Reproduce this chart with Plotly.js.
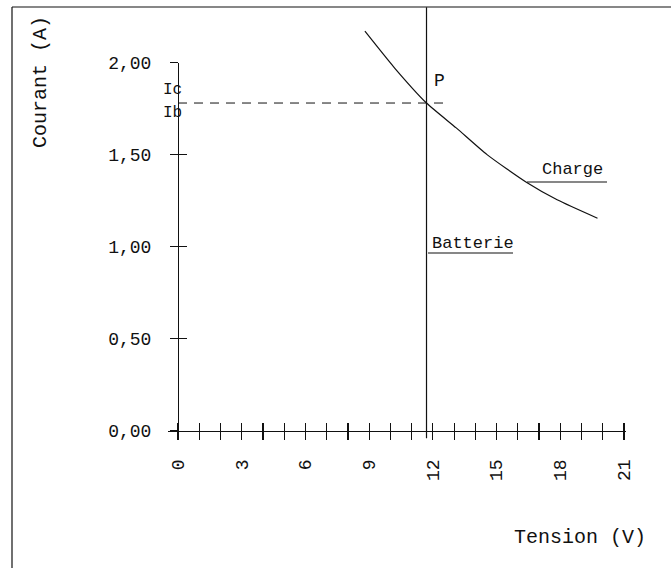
<!DOCTYPE html>
<html>
<head>
<meta charset="utf-8">
<script src="https://cdn.plot.ly/plotly-3.0.1.min.js"></script>
<style>html,body{margin:0;padding:0;background:#fff;}#chart{width:671px;height:568px;}</style>
</head>
<body>
<div id="chart"></div>
<script>
// ---- data ----
const chargeV = [8.8, 10.2, 11.7, 13.1, 14.55, 16.4, 17.85, 19.75];
const chargeI = [2.17, 1.97, 1.78, 1.645, 1.50, 1.35, 1.255, 1.155];
const batteryV = 11.7;
const batteryI = [-0.04, 2.30];
const pointI = 1.78;            // Ic = Ib at P
const dashV = [0, 12.7];
const xTickVals = [0, 1, 2, 3, 4, 5, 6, 7, 8, 9, 10, 11, 12, 13, 14, 15, 16, 17, 18, 19, 20, 21];
const xTickText = ['0', '', '', '3', '', '', '6', '', '', '9', '', '', '12', '', '', '15', '', '', '18', '', '', '21'];
const yTickVals = [0, 0.5, 1, 1.5, 2];
const yInnerTicks = [0.5, 1, 1.5];

// ---- layout helpers (pixel mapping) ----
const W = 671, H = 568;
const X0PX = 178, XPX = 21.24;   // px of v=0, px per volt
const Y0PX = 431, YPX = 184.25;  // px of I=0, px per ampere
const vx = px => (px - X0PX) / XPX;
const vy = py => (Y0PX - py) / YPX;

const FONT = 'Liberation Mono, DejaVu Sans Mono, monospace';
const black = '#111';

const traces = [
  {x: chargeV, y: chargeI, mode: 'lines', line: {color: black, width: 1.2, shape: 'spline', smoothing: 0.6}, hoverinfo: 'skip', showlegend: false, xaxis: 'x', yaxis: 'y'},
  {x: [batteryV, batteryV], y: batteryI, mode: 'lines', line: {color: black, width: 1.2}, hoverinfo: 'skip', showlegend: false, xaxis: 'x', yaxis: 'y'},
  {x: dashV, y: [pointI, pointI], mode: 'lines', line: {color: black, width: 1, dash: '9px,7px'}, hoverinfo: 'skip', showlegend: false, xaxis: 'x', yaxis: 'y'},
  // operating point, invisible, to register the axis subplots
  {x: [batteryV], y: [pointI], mode: 'markers', marker: {opacity: 0, size: 1}, hoverinfo: 'skip', showlegend: false, xaxis: 'x2', yaxis: 'y2'},
  {x: [batteryV], y: [pointI], mode: 'markers', marker: {opacity: 0, size: 1}, hoverinfo: 'skip', showlegend: false, xaxis: 'x3', yaxis: 'y3'}
];

const hidden = {showline: false, showticklabels: false, ticks: '', showgrid: false, zeroline: false, fixedrange: true};

const x2range = [vx(168), vx(626)];
const x2domain = [168 / W, 626 / W];
const y2domain = [(H - Y0PX) / H, (H - (Y0PX - 2 * YPX)) / H];
const yPos = X0PX / W;

const layout = {
  width: W, height: H,
  margin: {l: 0, r: 0, t: 0, b: 0, pad: 0},
  paper_bgcolor: '#fff', plot_bgcolor: 'rgba(0,0,0,0)',
  separators: ', ',
  showlegend: false,
  font: {family: FONT, color: black, size: 17},
  xaxis: Object.assign({range: [vx(0), vx(W)], domain: [0, 1], anchor: 'y'}, hidden),
  yaxis: Object.assign({range: [vy(H), vy(0)], domain: [0, 1], anchor: 'x'}, hidden),
  xaxis2: {
    range: x2range, domain: x2domain, anchor: 'y2',
    showline: true, linecolor: black, linewidth: 1.2,
    showgrid: false, zeroline: false, fixedrange: true,
    tickmode: 'array', tickvals: xTickVals, ticktext: xTickText,
    ticks: 'outside', ticklen: 8, tickwidth: 1.2, tickcolor: black,
    tickangle: -90, ticklabelstandoff: 12,
    tickfont: {family: FONT, size: 18, color: black}
  },
  xaxis3: {
    range: x2range, overlaying: 'x2', anchor: 'y2',
    showline: false, showgrid: false, zeroline: false, fixedrange: true,
    tickmode: 'array', tickvals: xTickVals,
    ticks: 'inside', ticklen: 8, tickwidth: 1.2, tickcolor: black, showticklabels: false
  },
  yaxis2: {
    range: [0, 2], domain: y2domain, anchor: 'free', position: yPos, side: 'left',
    showline: true, linecolor: black, linewidth: 1.2,
    showgrid: false, zeroline: false, fixedrange: true,
    tickmode: 'array', tickvals: yTickVals, tickformat: '.2f',
    ticks: 'outside', ticklen: 8, tickwidth: 1.2, tickcolor: black,
    ticklabelstandoff: 15,
    tickfont: {family: FONT, size: 18, color: black}
  },
  yaxis3: {
    range: [0, 2], overlaying: 'y2', anchor: 'free', position: yPos, side: 'left',
    showline: false, showgrid: false, zeroline: false, fixedrange: true,
    tickmode: 'array', tickvals: yInnerTicks,
    ticks: 'inside', ticklen: 8, tickwidth: 1.2, tickcolor: black, showticklabels: false
  },
  annotations: [
    {xref: 'x', yref: 'y', x: vx(40), y: vy(82), text: 'Courant (A)', textangle: -90, showarrow: false, font: {size: 20}},
    {xref: 'x', yref: 'y', x: vx(512), y: vy(537), text: 'Tension (V)', xanchor: 'left', showarrow: false, font: {size: 20}},
    {xref: 'x', yref: 'y', x: vx(184), y: vy(90), text: 'Ic', xanchor: 'right', showarrow: false, font: {size: 16}},
    {xref: 'x', yref: 'y', x: vx(184), y: vy(113), text: 'Ib', xanchor: 'right', showarrow: false, font: {size: 16}},
    {xref: 'x', yref: 'y', x: vx(432), y: vy(81), text: 'P', xanchor: 'left', showarrow: false, font: {size: 18}},
    {xref: 'x', yref: 'y', x: vx(430), y: vy(243), text: 'Batterie', xanchor: 'left', showarrow: false, font: {size: 17}},
    {xref: 'x', yref: 'y', x: vx(540), y: vy(169), text: 'Charge', xanchor: 'left', showarrow: false, font: {size: 17}}
  ],
  shapes: [
    // frame
    {type: 'line', xref: 'paper', yref: 'paper', x0: 12 / W, x1: 12 / W, y0: 0, y1: (H - 7) / H, line: {color: black, width: 1.2}},
    {type: 'line', xref: 'paper', yref: 'paper', x0: 12 / W, x1: 1, y0: (H - 7) / H, y1: (H - 7) / H, line: {color: black, width: 1.2}},
    // underlines
    {type: 'line', xref: 'x', yref: 'y', x0: vx(428), x1: vx(513), y0: vy(253), y1: vy(253), line: {color: black, width: 1.2}},
    {type: 'line', xref: 'x', yref: 'y', x0: vx(527), x1: vx(607), y0: vy(182), y1: vy(182), line: {color: black, width: 1.2}}
  ]
};

Plotly.newPlot('chart', traces, layout, {staticPlot: true, displayModeBar: false});
</script>
</body>
</html>
